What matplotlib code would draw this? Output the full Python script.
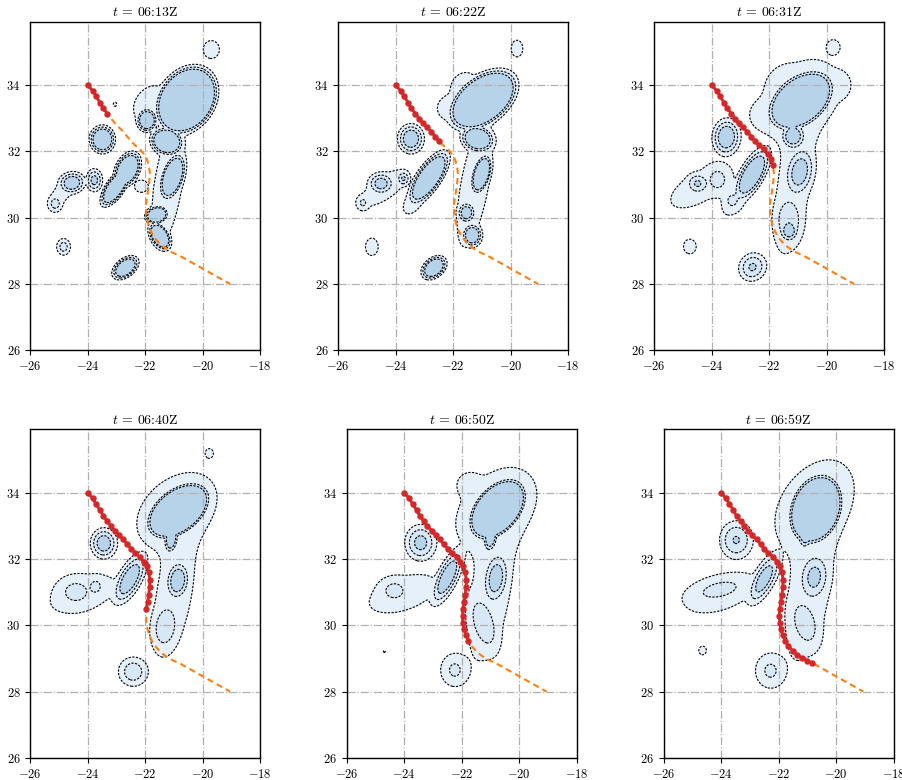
import numpy as np
import matplotlib
matplotlib.use("Agg")
import matplotlib.pyplot as plt

plt.rcParams["font.family"] = ["cmr10", "DejaVu Serif"]
plt.rcParams["mathtext.fontset"] = "cm"
plt.rcParams["axes.formatter.use_mathtext"] = True
plt.rcParams["axes.unicode_minus"] = True

# Scan times
times = ["06:13", "06:22", "06:31", "06:40", "06:50", "06:59"]

# Storm track (lon, lat); the final point is the forecast end of the path
track_lon = [-24.00, -23.83, -23.71, -23.57, -23.46, -23.32, -23.19, -23.05, -22.91,
             -22.76, -22.62, -22.49, -22.35, -22.18, -22.05, -21.95, -21.88, -21.84,
             -21.85, -21.88, -21.92, -21.96, -21.97, -21.96, -21.92, -21.86, -21.77,
             -21.66, -21.51, -21.35, -21.19, -21.01, -20.82, -19.05]
track_lat = [34.00, 33.83, 33.66, 33.47, 33.30, 33.14, 32.99, 32.85, 32.72,
             32.59, 32.44, 32.31, 32.18, 32.06, 31.92, 31.78, 31.60, 31.37,
             31.15, 30.92, 30.70, 30.49, 30.28, 30.07, 29.88, 29.71, 29.54,
             29.38, 29.23, 29.11, 29.01, 28.93, 28.86, 28.00]
# Number of observed positions at each scan time
n_observed = [6, 12, 17, 22, 27, 33]

# Echo cells per scan: (lon, lat, outer semi-axis a, outer semi-axis b, angle_deg, peak)
# a and b are the extent of the cell's outermost contour when it stands alone.
cells_0613 = [
    (-19.70, 35.07, 0.28, 0.27, 0, 25),
    (-20.56, 33.55, 1.23, 0.95, 40, 300),
    (-21.85, 33.45, 0.62, 0.45, 40, 24),
    (-21.94, 32.94, 0.37, 0.37, 0, 75),
    (-21.25, 32.30, 0.60, 0.44, -10, 100),
    (-21.05, 31.23, 0.78, 0.40, 68, 100),
    (-21.60, 30.08, 0.42, 0.28, 10, 100),
    (-21.49, 29.44, 0.50, 0.32, -50, 100),
    (-21.20, 31.00, 1.80, 0.48, 80, 24),
    (-22.69, 28.49, 0.52, 0.30, 30, 80),
    (-23.49, 32.36, 0.46, 0.44, 0, 80),
    (-22.62, 31.45, 0.62, 0.42, 55, 100),
    (-23.05, 30.90, 0.72, 0.32, 50, 100),
    (-22.15, 30.95, 0.22, 0.18, 0, 24),
    (-24.55, 31.05, 0.48, 0.34, 5, 55),
    (-23.77, 31.13, 0.29, 0.35, 0, 45),
    (-25.13, 30.42, 0.25, 0.25, 0, 35),
    (-24.90, 30.75, 0.50, 0.25, 45, 24),
    (-24.84, 29.12, 0.24, 0.25, 0, 35),
    (-23.05, 33.42, 0.06, 0.06, 0, 25),
]
cells_0622 = [
    (-19.78, 35.10, 0.20, 0.25, 0, 25),
    (-20.96, 33.55, 1.37, 0.78, 30, 200),
    (-21.65, 34.00, 0.45, 0.35, 30, 24),
    (-22.15, 33.30, 0.40, 0.35, 0, 24),
    (-21.15, 32.38, 0.62, 0.42, -10, 80),
    (-21.02, 31.31, 0.65, 0.32, 70, 100),
    (-21.54, 30.15, 0.32, 0.32, 0, 55),
    (-21.34, 29.47, 0.36, 0.36, 0, 65),
    (-21.25, 31.00, 1.90, 0.48, 78, 24),
    (-22.67, 28.49, 0.49, 0.32, 30, 80),
    (-23.47, 32.38, 0.47, 0.46, 0, 55),
    (-22.85, 31.20, 1.05, 0.42, 50, 100),
    (-23.40, 30.45, 0.40, 0.25, 45, 24),
    (-24.51, 31.03, 0.46, 0.34, 0, 48),
    (-23.73, 31.18, 0.23, 0.23, 0, 42),
    (-25.14, 30.45, 0.22, 0.22, 0, 32),
    (-24.83, 29.12, 0.22, 0.26, 0, 25),
    (-24.40, 30.90, 0.90, 0.35, 30, 24),
]
cells_0631 = [
    (-19.77, 35.15, 0.21, 0.20, 0, 25),
    (-20.90, 33.53, 1.30, 0.80, 30, 200),
    (-20.95, 33.55, 1.55, 1.05, 30, 24),
    (-21.55, 34.15, 0.40, 0.30, 30, 24),
    (-22.20, 33.10, 0.35, 0.30, 0, 24),
    (-19.55, 34.00, 0.30, 0.30, 0, 24),
    (-21.17, 32.46, 0.45, 0.42, 0, 55),
    (-20.94, 31.38, 0.80, 0.52, 75, 50),
    (-21.32, 29.92, 0.80, 0.52, 90, 39),
    (-21.31, 29.60, 0.30, 0.30, 0, 55),
    (-21.15, 30.95, 2.00, 0.55, 80, 24),
    (-22.58, 28.51, 0.49, 0.42, 20, 42),
    (-23.49, 32.43, 0.58, 0.50, 80, 55),
    (-22.60, 31.30, 0.97, 0.42, 55, 70),
    (-23.20, 30.50, 0.50, 0.30, 45, 24),
    (-24.49, 31.03, 0.40, 0.32, 0, 42),
    (-23.79, 31.15, 0.50, 0.50, 0, 33),
    (-23.29, 30.52, 0.32, 0.32, 0, 32),
    (-24.45, 30.90, 1.05, 0.45, 25, 24),
    (-24.76, 29.13, 0.22, 0.22, 0, 25),
]
cells_0640 = [
    (-19.77, 35.19, 0.12, 0.12, 0, 22),
    (-20.85, 33.45, 1.25, 0.72, 30, 300),
    (-20.90, 33.45, 1.50, 1.00, 30, 24),
    (-21.10, 32.60, 0.45, 0.25, 80, 60),
    (-20.87, 31.35, 0.60, 0.42, 80, 55),
    (-21.30, 29.96, 0.75, 0.48, 80, 39),
    (-22.42, 28.60, 0.51, 0.44, 0, 37),
    (-23.44, 32.47, 0.47, 0.47, 0, 50),
    (-22.54, 31.39, 0.90, 0.40, 56, 55),
    (-24.15, 30.95, 1.15, 0.50, 15, 24),
    (-24.42, 31.01, 0.70, 0.50, 0, 33),
    (-23.72, 31.17, 0.30, 0.30, 0, 33),
    (-21.00, 30.90, 1.80, 0.60, 78, 24),
]
cells_0650 = [
    (-24.69, 29.21, 0.03, 0.03, 0, 21),
    (-20.75, 33.50, 1.20, 0.75, 40, 300),
    (-21.00, 32.65, 0.45, 0.25, 80, 60),
    (-20.80, 33.50, 1.55, 1.05, 35, 24),
    (-21.75, 34.25, 0.35, 0.30, 0, 24),
    (-20.81, 31.42, 0.82, 0.45, 80, 50),
    (-21.24, 30.06, 0.98, 0.49, -70, 38),
    (-22.24, 28.65, 0.49, 0.49, 0, 32),
    (-23.43, 32.49, 0.55, 0.55, 0, 45),
    (-22.50, 31.45, 0.98, 0.36, 60, 55),
    (-24.05, 30.95, 1.20, 0.50, 15, 24),
    (-24.35, 31.05, 0.57, 0.41, 0, 33),
    (-21.00, 30.90, 2.00, 0.65, 78, 24),
]
cells_0659 = [
    (-24.64, 29.24, 0.13, 0.13, 0, 22),
    (-20.70, 33.50, 1.16, 0.90, 60, 300),
    (-21.05, 32.75, 0.45, 0.25, 80, 55),
    (-20.75, 33.60, 1.60, 1.10, 45, 24),
    (-20.76, 31.45, 0.77, 0.55, 80, 45),
    (-21.08, 30.06, 0.86, 0.52, -70, 37),
    (-22.28, 28.63, 0.52, 0.52, 0, 32),
    (-23.47, 32.57, 0.58, 0.58, 0, 41),
    (-22.50, 31.40, 0.92, 0.37, 57, 50),
    (-24.05, 30.95, 1.20, 0.50, 15, 24),
    (-24.05, 31.08, 1.13, 0.39, 10, 33),
    (-20.95, 30.90, 2.00, 0.68, 78, 24),
]
scan_cells = [cells_0613, cells_0622, cells_0631, cells_0640, cells_0650, cells_0659]

levels = [20, 30, 40]
fill_colors = ["#e6f0fa", "#d8e7f5", "#b6d3ea"]
union_power = 6.0

lon = np.linspace(-26, -18, 500)
lat = np.linspace(26, 36, 620)
LON, LAT = np.meshgrid(lon, lat)


def echo_field(cells):
    acc = np.zeros_like(LON)
    for x0, y0, a, b, ang, peak in cells:
        k = np.sqrt(2.0 * np.log(peak / levels[0]))
        sa, sb = a / k, b / k
        t = np.deg2rad(ang)
        dx, dy = LON - x0, LAT - y0
        u = dx * np.cos(t) + dy * np.sin(t)
        v = -dx * np.sin(t) + dy * np.cos(t)
        f = peak * np.exp(-0.5 * ((u / sa) ** 2 + (v / sb) ** 2))
        acc += f ** union_power
    return acc ** (1.0 / union_power)


W, H = 902, 780
fig = plt.figure(figsize=(W / 100, H / 100), dpi=100)
lefts = [30.2, 338.2, 654.2, 30.2, 346.7, 663.5]
tops = [21.7, 21.7, 21.7, 429.3, 429.3, 429.3]
aw, ah = 230.0, 328.6

for i, (t, cells) in enumerate(zip(times, scan_cells)):
    ax = fig.add_axes([lefts[i] / W, 1 - (tops[i] + ah) / H, aw / W, ah / H])
    z = echo_field(cells)
    ax.contourf(LON, LAT, z, levels=levels + [1e5], colors=fill_colors, zorder=1)
    ax.contour(LON, LAT, z, levels=levels, colors="black", linewidths=0.8,
               linestyles=[(0, (2.0, 1.3))], zorder=2)
    ax.plot(track_lon, track_lat, color="#ff7f0e", lw=1.5,
            ls=(0, (3.0, 2.0)), zorder=3)
    n = n_observed[i]
    ax.plot(track_lon[:n], track_lat[:n], color="#d62728", lw=2.0,
            marker="o", ms=3.6, zorder=4)
    ax.set_xlim(-26, -18)
    ax.set_ylim(26, 35.91)
    ax.set_xticks(np.arange(-26, -17, 2))
    ax.set_yticks(np.arange(26, 35, 2))
    ax.tick_params(labelsize=9, length=3.5, width=0.8)
    ax.grid(True, ls="-.", color="#b0b0b0", lw=0.9)
    for s in ax.spines.values():
        s.set_linewidth(1.0)
    ax.set_title(r"$t$ = " + t + "Z", fontsize=10, pad=4)

fig.savefig("out.png", dpi=100)
